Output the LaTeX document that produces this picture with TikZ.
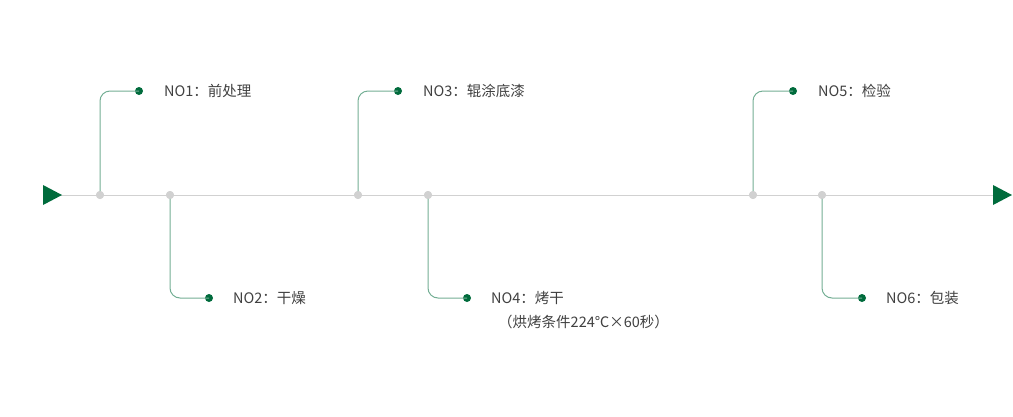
\documentclass[tikz,border=0pt]{standalone}
\usepackage{fontspec}
\setmainfont{Noto Sans CJK SC}
\begin{document}
\begin{tikzpicture}[x=1pt,y=-1pt]
\definecolor{dg}{HTML}{006B3C}
\tikzset{
  axisdot/.style={circle,fill=black!18,inner sep=0pt,minimum size=8pt},
  enddot/.style={circle,fill=dg,inner sep=0pt,minimum size=8pt},
  stem/.style={draw=dg!55,line width=1pt,rounded corners=10pt},
  lbl/.style={anchor=west,inner sep=0pt,text=black!75,font=\fontsize{14.5}{17}\selectfont}}
\useasboundingbox (0,0) rectangle (1013,416);
\draw[black!18,line width=1pt] (50,195) -- (1000,195);
\fill[dg] (43,185) -- (62,195) -- (43,205) -- cycle;
\fill[dg] (993,185) -- (1012,195) -- (993,205) -- cycle;
\foreach \n/\x/\e/\t in {a/100/139/{NO1：前处理},c/358/398/{NO3：辊涂底漆},e/753/793/{NO5：检验}}{
  \node[axisdot] (\n) at (\x,195) {};
  \node[enddot] (\n e) at (\e,91) {};
  \draw[stem] (\n.center) -- (\x,91) -- (\n e.center);
  \node[lbl] (\n t) at (\e+25,91) {\t};
}
\foreach \n/\x/\e/\t in {b/170/209/{NO2：干燥},d/428/467/{NO4：烤干},f/822/862/{NO6：包装}}{
  \node[axisdot] (\n) at (\x,195) {};
  \node[enddot] (\n e) at (\e,298) {};
  \draw[stem] (\n.center) -- (\x,298) -- (\n e.center);
  \node[lbl] (\n t) at (\e+24,298) {\t};
}
\foreach \n in {a,b,c,d,e,f}{\node[axisdot] at (\n) {};}
\node[lbl] (d2) at (498,322) {（烘烤条件224℃×60秒）};
\end{tikzpicture}
\end{document}
